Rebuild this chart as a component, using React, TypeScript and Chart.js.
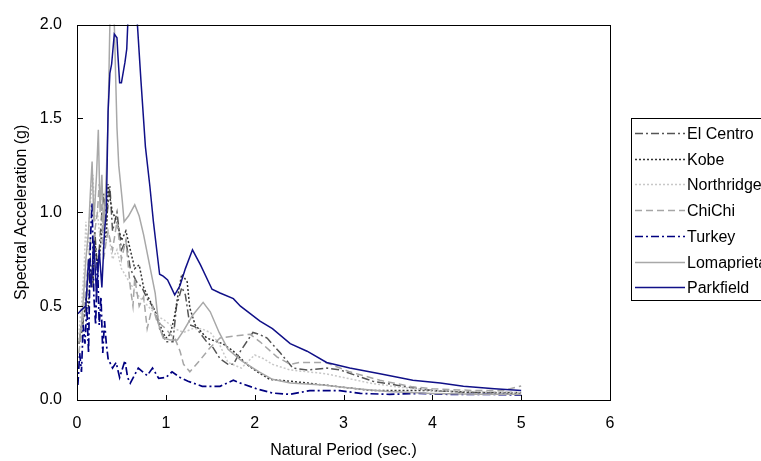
import React, { useEffect, useRef } from "react";
import { Chart, registerables } from "chart.js";

Chart.register(...registerables);

const FONT = "Arial, 'Liberation Sans', sans-serif";
const FS = 16;

// [natural period (s), spectral acceleration (g)]
const elCentro: [number, number][] = [
  [0.02, 0.3], [0.05, 0.35], [0.08, 0.45], [0.1, 0.5], [0.13, 0.7], [0.15, 0.75], [0.18, 0.6], [0.2, 0.9],
  [0.23, 0.7], [0.25, 0.8], [0.28, 1.0], [0.3, 1.1], [0.33, 0.95], [0.37, 1.14], [0.4, 0.9], [0.45, 1.0],
  [0.5, 0.8], [0.55, 0.85], [0.6, 0.7], [0.67, 0.63], [0.73, 0.6], [0.79, 0.54], [0.85, 0.5], [0.9, 0.45],
  [0.93, 0.38], [1.0, 0.31], [1.08, 0.31], [1.12, 0.5], [1.18, 0.6], [1.22, 0.56], [1.27, 0.4], [1.33, 0.39],
  [1.38, 0.36], [1.46, 0.31], [1.53, 0.28], [1.61, 0.22], [1.7, 0.19], [1.76, 0.19], [1.84, 0.26], [1.98, 0.36],
  [2.05, 0.35], [2.14, 0.33], [2.29, 0.25], [2.43, 0.17], [2.59, 0.16], [2.81, 0.17], [2.96, 0.16], [3.33, 0.1],
  [3.71, 0.07], [4.0, 0.05], [4.5, 0.04], [5.0, 0.04],
];

const kobe: [number, number][] = [
  [0.02, 0.3], [0.05, 0.4], [0.08, 0.45], [0.1, 0.55], [0.13, 0.5], [0.15, 0.7], [0.18, 0.65], [0.2, 0.85],
  [0.23, 0.7], [0.25, 0.75], [0.28, 0.9], [0.3, 0.95], [0.33, 0.85], [0.35, 1.15], [0.38, 1.05], [0.4, 1.0],
  [0.45, 0.95], [0.5, 0.85], [0.55, 0.9], [0.6, 0.8], [0.65, 0.7], [0.7, 0.72], [0.75, 0.6], [0.8, 0.55],
  [0.85, 0.5], [0.9, 0.45], [0.95, 0.38], [1.0, 0.33], [1.05, 0.35], [1.1, 0.45], [1.15, 0.6], [1.18, 0.67],
  [1.24, 0.63], [1.27, 0.49], [1.33, 0.4], [1.46, 0.33], [1.64, 0.3], [1.76, 0.26], [1.91, 0.19], [2.03, 0.15],
  [2.17, 0.11], [2.4, 0.1], [2.6, 0.09], [2.96, 0.07], [3.33, 0.05], [4.0, 0.05], [4.5, 0.04], [5.0, 0.035],
];

const northridge: [number, number][] = [
  [0.02, 0.35], [0.05, 0.5], [0.08, 0.7], [0.1, 0.95], [0.12, 0.8], [0.15, 1.05], [0.18, 1.2], [0.2, 0.95],
  [0.23, 1.0], [0.25, 0.9], [0.3, 0.8], [0.35, 0.9], [0.4, 0.75], [0.45, 0.8], [0.5, 0.7], [0.6, 0.62],
  [0.7, 0.55], [0.8, 0.5], [0.9, 0.45], [1.0, 0.42], [1.1, 0.38], [1.2, 0.36], [1.3, 0.38], [1.4, 0.38],
  [1.5, 0.36], [1.6, 0.3], [1.7, 0.2], [1.85, 0.17], [2.0, 0.24], [2.1, 0.22], [2.2, 0.19], [2.4, 0.16],
  [2.6, 0.15], [2.8, 0.14], [3.0, 0.12], [3.3, 0.09], [3.6, 0.07], [4.0, 0.05], [4.5, 0.045], [5.0, 0.04],
];

const chiChi: [number, number][] = [
  [0.02, 0.25], [0.05, 0.35], [0.08, 0.5], [0.1, 0.6], [0.13, 0.75], [0.15, 0.85], [0.18, 0.8], [0.2, 0.9],
  [0.23, 1.0], [0.25, 1.15], [0.28, 1.0], [0.3, 0.75], [0.33, 0.85], [0.35, 0.9], [0.4, 0.8], [0.45, 0.95],
  [0.5, 0.75], [0.55, 0.85], [0.6, 0.6], [0.63, 0.5], [0.65, 0.65], [0.7, 0.5], [0.75, 0.55], [0.79, 0.38],
  [0.85, 0.5], [0.9, 0.42], [1.0, 0.38], [1.05, 0.35], [1.1, 0.33], [1.16, 0.26], [1.2, 0.19], [1.27, 0.15],
  [1.38, 0.21], [1.5, 0.28], [1.61, 0.33], [1.76, 0.34], [1.95, 0.35], [2.06, 0.31], [2.25, 0.23], [2.4, 0.19],
  [2.5, 0.2], [2.8, 0.2], [3.07, 0.15], [3.41, 0.105], [3.78, 0.07], [4.0, 0.06], [4.5, 0.05], [4.8, 0.05],
  [5.0, 0.075],
];

const turkey: [number, number][] = [
  [0.01, 0.08], [0.03, 0.25], [0.05, 0.15], [0.07, 0.4], [0.09, 0.3], [0.11, 0.5], [0.13, 0.25], [0.15, 0.85],
  [0.17, 1.05], [0.19, 0.55], [0.21, 0.4], [0.23, 0.75], [0.25, 0.4], [0.27, 0.55], [0.29, 0.25], [0.31, 0.42],
  [0.33, 0.3], [0.35, 0.22], [0.4, 0.17], [0.44, 0.2], [0.48, 0.12], [0.54, 0.21], [0.57, 0.12], [0.6, 0.09],
  [0.69, 0.17], [0.74, 0.15], [0.79, 0.13], [0.85, 0.17], [0.92, 0.115], [1.0, 0.12], [1.07, 0.15], [1.16, 0.12],
  [1.25, 0.1], [1.41, 0.073], [1.61, 0.073], [1.76, 0.105], [1.84, 0.09], [2.02, 0.06], [2.2, 0.037], [2.4, 0.03],
  [2.62, 0.05], [2.96, 0.05], [3.19, 0.035], [3.52, 0.03], [3.86, 0.035], [4.2, 0.03], [4.6, 0.03], [5.0, 0.027],
];

const lomaprieta: [number, number][] = [
  [0.02, 0.3], [0.05, 0.4], [0.08, 0.6], [0.1, 0.75], [0.13, 0.9], [0.15, 1.1], [0.17, 1.27], [0.19, 0.95],
  [0.22, 1.2], [0.24, 1.44], [0.26, 1.0], [0.28, 1.2], [0.3, 0.9], [0.33, 1.2], [0.35, 1.5], [0.37, 2.0],
  [0.4, 2.15], [0.42, 2.0], [0.45, 1.45], [0.47, 1.25], [0.51, 1.06], [0.53, 0.95], [0.58, 0.98], [0.65, 1.04],
  [0.7, 0.98], [0.75, 0.88], [0.8, 0.76], [0.88, 0.57], [0.92, 0.4], [0.97, 0.33], [1.05, 0.32], [1.13, 0.32],
  [1.2, 0.37], [1.3, 0.45], [1.42, 0.52], [1.5, 0.47], [1.6, 0.36], [1.7, 0.27], [1.85, 0.21], [2.05, 0.15],
  [2.2, 0.11], [2.4, 0.09], [2.77, 0.08], [3.15, 0.06], [3.5, 0.045], [4.0, 0.035], [4.5, 0.03], [5.0, 0.03],
];

const parkfield: [number, number][] = [
  [0.01, 0.46], [0.05, 0.48], [0.1, 0.5], [0.13, 0.75], [0.16, 0.6], [0.19, 0.85], [0.22, 0.55], [0.25, 0.8],
  [0.28, 0.6], [0.31, 0.9], [0.33, 1.0], [0.35, 1.54], [0.37, 1.74], [0.39, 1.79], [0.42, 1.95], [0.45, 1.93],
  [0.46, 1.84], [0.48, 1.69], [0.5, 1.69], [0.54, 1.8], [0.56, 1.87], [0.58, 2.1], [0.62, 2.3], [0.66, 2.15],
  [0.68, 2.0], [0.72, 1.7], [0.77, 1.35], [0.82, 1.14], [0.86, 0.95], [0.9, 0.79], [0.93, 0.67], [0.97, 0.66],
  [1.02, 0.64], [1.06, 0.6], [1.1, 0.56], [1.16, 0.61], [1.22, 0.7], [1.3, 0.8], [1.39, 0.72], [1.52, 0.59],
  [1.61, 0.57], [1.76, 0.54], [1.84, 0.5], [2.06, 0.42], [2.2, 0.38], [2.4, 0.3], [2.59, 0.26], [2.81, 0.2],
  [3.07, 0.17], [3.41, 0.14], [3.78, 0.105], [4.09, 0.09], [4.35, 0.073], [4.7, 0.06], [5.0, 0.05],
];

const seriesNames = ["El Centro", "Kobe", "Northridge", "ChiChi", "Turkey", "Lomaprieta", "Parkfield"];
const seriesData = [elCentro, kobe, northridge, chiChi, turkey, lomaprieta, parkfield];
const seriesColors = ["#555555", "#333333", "#c8c8c8", "#a6a6a6", "#000080", "#a8a8a8", "#101088"];
const seriesDash: number[][] = [[8, 3, 2, 3], [2, 2], [2, 2], [7, 4], [8, 3, 2, 3], [], []];
const seriesWidth = [1.5, 1.5, 1.5, 1.5, 1.7, 1.5, 1.5];

const xMin = 0, xMax = 6, xStep = 1;
const yMin = 0, yMax = 2, yStep = 0.5;
const xTitle = "Natural Period (sec.)";
const yTitle = "Spectral Acceleration (g)";

const framePlugin = {
  id: "frameAndLegend",
  afterDraw(chart: any) {
    const { ctx, chartArea: a, scales } = chart;
    ctx.save();
    ctx.strokeStyle = "#000";
    ctx.lineWidth = 1;
    ctx.setLineDash([]);
    ctx.strokeRect(Math.round(a.left) + 0.5, Math.round(a.top) + 0.5, Math.round(a.right - a.left), Math.round(a.bottom - a.top));
    // inward tick marks
    ctx.beginPath();
    scales.x.ticks.forEach((t: any) => {
      const px = Math.round(scales.x.getPixelForValue(t.value)) + 0.5;
      ctx.moveTo(px, a.bottom);
      ctx.lineTo(px, a.bottom - 5);
    });
    scales.y.ticks.forEach((t: any) => {
      const py = Math.round(scales.y.getPixelForValue(t.value)) + 0.5;
      ctx.moveTo(a.left, py);
      ctx.lineTo(a.left + 6, py);
    });
    ctx.stroke();

    // legend
    const lx = 631, ly = 118, lh = 182;
    ctx.strokeStyle = "#000";
    ctx.strokeRect(lx + 0.5, ly + 0.5, 140, lh);
    ctx.font = FS + "px " + FONT;
    ctx.textBaseline = "middle";
    ctx.textAlign = "left";
    chart.data.datasets.forEach((ds: any, i: number) => {
      const y = Math.round(133 + i * 25.7) + 0.5;
      ctx.beginPath();
      ctx.strokeStyle = ds.borderColor;
      ctx.lineWidth = ds.borderWidth;
      ctx.setLineDash(ds.borderDash || []);
      ctx.moveTo(635, y);
      ctx.lineTo(685, y);
      ctx.stroke();
      ctx.fillStyle = "#000";
      ctx.fillText(ds.label, 687, y + 1);
    });
    ctx.restore();
  },
};

export default function App() {
  const ref = useRef<HTMLCanvasElement>(null);
  useEffect(() => {
    if (!ref.current) return;
    const chart = new Chart(ref.current, {
      type: "line",
      data: {
        datasets: seriesNames.map((name, i) => ({
          label: name,
          data: seriesData[i].map(([x, y]) => ({ x, y })),
          borderColor: seriesColors[i],
          backgroundColor: seriesColors[i],
          borderDash: seriesDash[i],
          borderWidth: seriesWidth[i],
          pointRadius: 0,
          tension: 0,
          fill: false,
          order: seriesNames.length - i,
        })),
      },
      options: {
        animation: false,
        responsive: true,
        maintainAspectRatio: false,
        layout: { padding: { top: 18, right: 151, left: 0, bottom: 0 } },
        plugins: { legend: { display: false }, tooltip: { enabled: false } },
        scales: {
          x: {
            type: "linear",
            min: xMin,
            max: xMax,
            afterFit: (s: any) => { s.height = 61; },
            grid: { display: false, drawTicks: false },
            border: { display: false },
            ticks: { stepSize: xStep, padding: 14, color: "#000", font: { size: FS, family: FONT } },
            title: { display: true, text: xTitle, color: "#000", font: { size: FS, family: FONT }, padding: { top: 0, bottom: 1 } },
          },
          y: {
            type: "linear",
            min: yMin,
            max: yMax,
            afterFit: (s: any) => { s.width = 77; },
            grid: { display: false, drawTicks: false },
            border: { display: false },
            ticks: {
              stepSize: yStep,
              padding: 15,
              color: "#000",
              font: { size: FS, family: FONT },
              callback: (v: any) => Number(v).toFixed(1),
            },
            title: { display: true, text: yTitle, color: "#000", font: { size: FS, family: FONT }, padding: { top: 12, bottom: 0 } },
          },
        },
      },
      plugins: [framePlugin],
    } as any);
    return () => chart.destroy();
  }, []);
  return (
    <div style={{ position: "fixed", left: 0, top: 0, width: 761, height: 461, background: "#fff" }}>
      <canvas ref={ref} />
    </div>
  );
}
